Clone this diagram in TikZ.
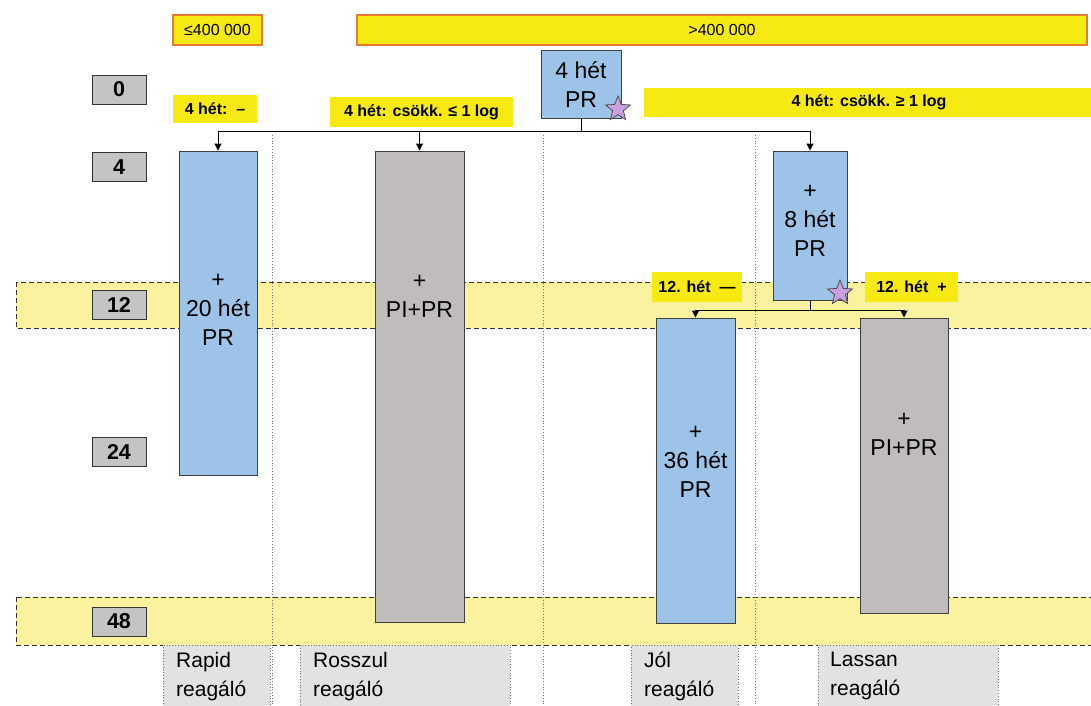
\documentclass[tikz,border=0pt]{standalone}
\usepackage{fontspec}
\setmainfont{Liberation Sans}
\usetikzlibrary{arrows.meta,shapes.geometric}
\definecolor{ylw}{RGB}{246,234,18}
\definecolor{orng}{RGB}{232,120,50}
\definecolor{band}{RGB}{251,242,160}
\definecolor{blu}{RGB}{157,196,232}
\definecolor{gry}{RGB}{192,188,188}
\definecolor{lgry}{RGB}{226,226,226}
\definecolor{numg}{RGB}{196,196,196}
\definecolor{purp}{RGB}{202,160,222}
\tikzset{
  box/.style={draw=black!75, line width=1pt, inner sep=0pt},
  bluebox/.style={box, fill=blu},
  graybox/.style={box, fill=gry},
  txt/.style={font=\fontsize{23}{29}\selectfont, align=center, inner sep=0pt},
  lbl/.style={fill=ylw, font=\fontsize{16}{18}\bfseries\selectfont, inner sep=0pt},
  thr/.style={fill=ylw, draw=orng, line width=1.2pt, font=\fontsize{16}{18}\selectfont, inner sep=0pt},
  num/.style={draw=black!80, line width=1pt, fill=numg, font=\fontsize{21.5}{23}\bfseries\selectfont, minimum width=54pt, minimum height=29pt, inner sep=0pt},
  bandbox/.style={fill=band, draw=black!80, dash pattern=on 5pt off 3pt, line width=1pt},
  sep/.style={draw=black!55, dotted, line width=0.8pt},
  resp/.style={fill=lgry, draw=black!55, dotted, line width=0.8pt, inner sep=0pt, anchor=north west},
  resptxt/.style={font=\fontsize{21}{29}\selectfont, align=left, anchor=north west, inner sep=0pt},
  arr/.style={draw=black, line width=1pt, -{Triangle[width=7pt,length=7pt]}},
  conn/.style={draw=black, line width=1pt},
  starmark/.style={star, star points=5, star point ratio=2.3, fill=purp, draw=black!70, line width=0.8pt, minimum size=26pt, inner sep=0pt}
}
\begin{document}
\begin{tikzpicture}[x=1pt,y=-1pt]
\useasboundingbox (0,0) rectangle (1091,705);
\clip (0,0) rectangle (1091,705);
\fill[white] (0,0) rectangle (1091,705);
% bands
\draw[bandbox] (16,282) rectangle (1095,328);
\draw[bandbox] (16,597) rectangle (1095,645);
% separators
\draw[sep] (272,135) -- (272,705);
\draw[sep] (543,135) -- (543,705);
\draw[sep] (755,135) -- (755,705);
% thresholds
\node[thr, minimum width=89pt, minimum height=30pt] (le) at (217.5,30) {≤400 000};
\node[thr, minimum width=730pt, minimum height=30pt] (gt) at (722,30) {>400 000};
% numbers
\node[num] (n0) at (119,89.5) {0};
\node[num] (n4) at (119,167) {4};
\node[num] (n12) at (119,305) {12};
\node[num] (n24) at (119,451.5) {24};
\node[num] (n48) at (119,621.5) {48};
% top box
\node[bluebox, minimum width=80pt, minimum height=68pt] (top) at (581,84) {};
\node[txt] (toptxt) at (581,85) {4 hét\\PR};
\node[starmark] (s1) at (618,109) {};
% labels row
\node[lbl, minimum width=84pt, minimum height=28pt] (l1) at (215,109) {4 hét:\ \ –};
\node[lbl, minimum width=183pt, minimum height=30pt] (l2) at (421.5,112) {4 hét: csökk. ≤ 1 log};
\node[lbl, minimum width=450pt, minimum height=29pt] (l3) at (869,102.5) {4 hét: csökk. ≥ 1 log};
% main columns
\node[bluebox, minimum width=78pt, minimum height=324pt] (rapid) at (218,313) {};
\node[txt] (rapidtxt) at (218,310) {+\\20 hét\\PR};
\node[graybox, minimum width=89pt, minimum height=471pt] (rossz) at (419.5,386.5) {};
\node[txt] (rossztxt) at (419.5,296) {+\\PI+PR};
\node[bluebox, minimum width=74pt, minimum height=149pt] (eight) at (810,225.5) {};
\node[txt] (eighttxt) at (810,221) {+\\8 hét\\PR};
\node[starmark] (s2) at (840,293) {};
\node[lbl, minimum width=90pt, minimum height=30pt] (l4) at (697,287) {12. hét\ \ —};
\node[lbl, minimum width=93pt, minimum height=30pt] (l5) at (911.5,287) {12. hét\ \ +};
\node[bluebox, minimum width=79pt, minimum height=305pt] (jol) at (695.5,470.5) {};
\node[txt] (joltxt) at (695.5,462) {+\\36 hét\\PR};
\node[graybox, minimum width=88pt, minimum height=295pt] (lassan) at (904,465.5) {};
\node[txt] (lassantxt) at (904,434) {+\\PI+PR};
% connectors
\coordinate (j1) at (581,131);
\draw[conn] (top.south) -- (j1);
\draw[arr] (j1) -| (rapid.north);
\draw[arr] (j1) -| (rossz.north);
\draw[arr] (j1) -| (eight.north);
\coordinate (j2) at (810,310);
\draw[conn] (eight.south) -- (j2);
\draw[arr] (j2) -| (jol.north);
\draw[arr] (j2) -| (lassan.north);
% response boxes
\node[resp, minimum width=107pt, minimum height=70pt] (r1) at (163,645) {};
\node[resptxt] (r1t) at (176,652) {Rapid\\reagáló};
\node[resp, minimum width=210pt, minimum height=70pt] (r2) at (300,645) {};
\node[resptxt] (r2t) at (313,652) {Rosszul\\reagáló};
\node[resp, minimum width=107pt, minimum height=70pt] (r3) at (631,645) {};
\node[resptxt] (r3t) at (644,652) {Jól\\reagáló};
\node[resp, minimum width=180pt, minimum height=70pt] (r4) at (818,645) {};
\node[resptxt] (r4t) at (830,652) {Lassan\\reagáló};
\end{tikzpicture}
\end{document}
